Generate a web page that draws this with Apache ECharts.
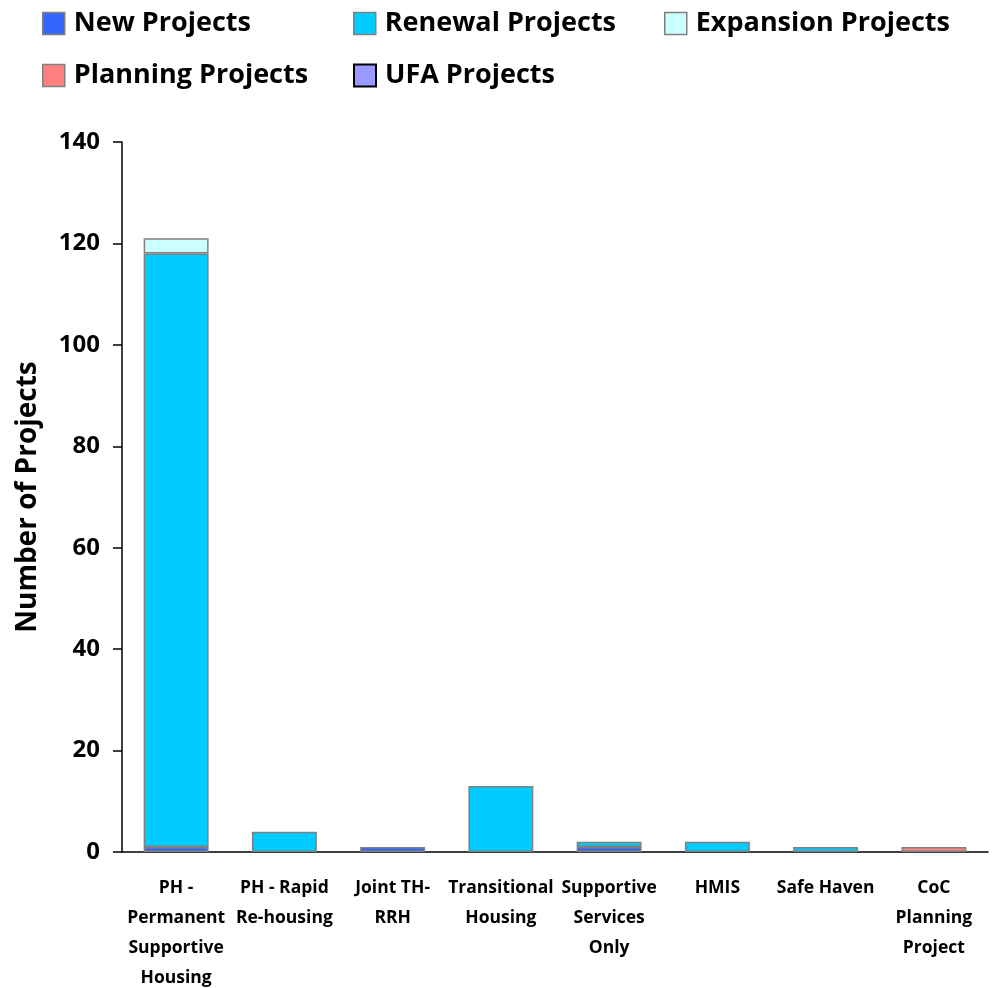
<!DOCTYPE html>
<html><head><meta charset="utf-8">
<script src="https://cdn.jsdelivr.net/npm/echarts@6/dist/echarts.min.js"></script>
<style>html,body{margin:0;padding:0;background:#fff}#c{width:993px;height:988px}</style>
</head><body><div id="c"></div>
<script>
const categories = ["PH -\nPermanent\nSupportive\nHousing", "PH - Rapid\nRe-housing", "Joint TH-\nRRH", "Transitional\nHousing", "Supportive\nServices\nOnly", "HMIS", "Safe Haven", "CoC\nPlanning\nProject"];
const newProjects       = [1, 0, 1, 0, 1, 0, 0, 0];
const renewalProjects   = [117, 4, 0, 13, 1, 2, 1, 0];
const expansionProjects = [3, 0, 0, 0, 0, 0, 0, 0];
const planningProjects  = [0, 0, 0, 0, 0, 0, 0, 1];
const ufaProjects       = [0, 0, 0, 0, 0, 0, 0, 0];
const yTicks = {min: 0, max: 140, interval: 20};

const FONT = 'Open Sans';
const seriesDefs = [
  {name: 'New Projects', data: newProjects, color: '#3366FF', border: '#808080', bw: 1.5},
  {name: 'Renewal Projects', data: renewalProjects, color: '#00CCFF', border: '#808080', bw: 1.5},
  {name: 'Expansion Projects', data: expansionProjects, color: '#CCFFFF', border: '#808080', bw: 1.5},
  {name: 'Planning Projects', data: planningProjects, color: '#FF8080', border: '#808080', bw: 1.5},
  {name: 'UFA Projects', data: ufaProjects, color: '#9999FF', border: '#000000', bw: 2}
];
const legendPos = [[42, 10], [353, 10], [664, 10], [42, 62], [353, 62]];

const chart = echarts.init(document.getElementById('c'), null, {renderer: 'canvas'});
chart.setOption({
  animation: false,
  textStyle: {fontFamily: FONT},
  legend: seriesDefs.map((s, i) => ({
    data: [s.name],
    left: legendPos[i][0], top: legendPos[i][1],
    padding: 0,
    itemWidth: 22, itemHeight: 22,
    icon: 'rect',
    itemStyle: {color: s.color, borderColor: s.border, borderWidth: s.bw},
    textStyle: {fontFamily: FONT, fontWeight: 'bold', fontSize: 27, color: '#000', padding: [0, 0, 0, 4]},
    selectedMode: false
  })),
  grid: {left: 122, right: 5, top: 142, bottom: 136, containLabel: false, outerBoundsMode: 'none'},
  xAxis: {
    type: 'category',
    data: categories,
    axisLine: {lineStyle: {color: '#000', width: 1.5}},
    axisTick: {show: false},
    axisLabel: {interval: 0, fontFamily: FONT, fontWeight: 'bold', fontSize: 17.5, color: '#000', lineHeight: 30, margin: 21}
  },
  yAxis: {
    type: 'value',
    min: yTicks.min, max: yTicks.max, interval: yTicks.interval,
    name: 'Number of Projects',
    nameLocation: 'middle',
    nameGap: 80,
    nameTextStyle: {fontFamily: FONT, fontWeight: 'bold', fontSize: 28, color: '#000'},
    axisLine: {show: true, lineStyle: {color: '#000', width: 1.5}},
    axisTick: {show: true, length: 9, lineStyle: {color: '#000', width: 1.5}},
    splitLine: {show: false},
    axisLabel: {fontFamily: FONT, fontWeight: 'bold', fontSize: 24, color: '#000', margin: 22}
  },
  series: seriesDefs.map(s => ({
    name: s.name,
    type: 'bar',
    stack: 'total',
    barWidth: '60%',
    data: s.data.map(v => (v === 0 ? null : v)),
    itemStyle: {color: s.color, borderColor: s.border, borderWidth: s.bw}
  }))
});
</script></body></html>
